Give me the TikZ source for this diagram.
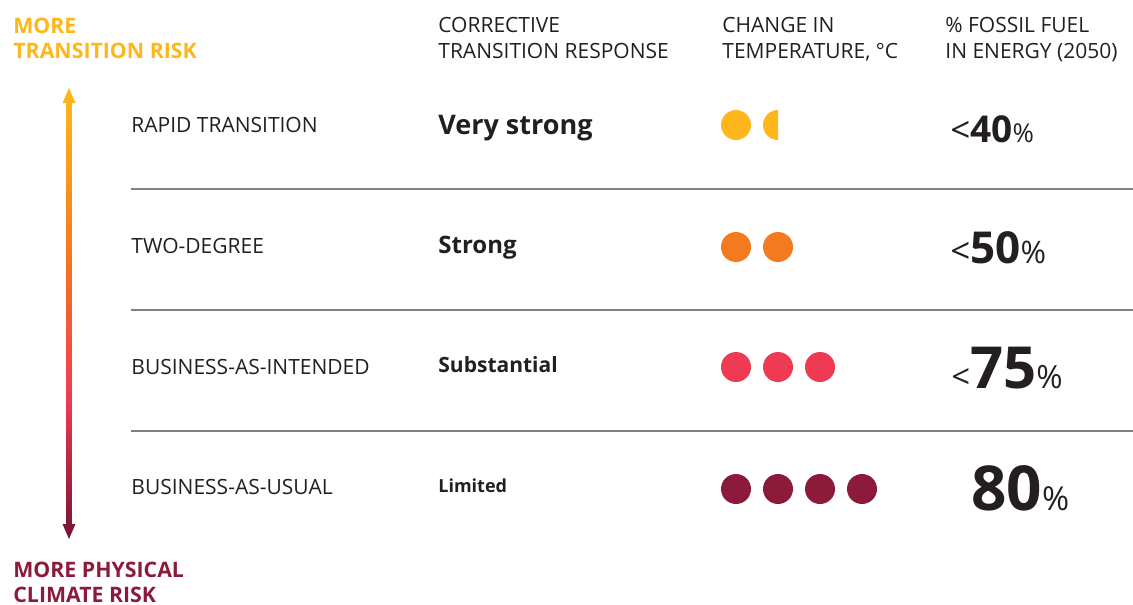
\documentclass[tikz,border=0pt]{standalone}
\usepackage{fontspec}
\setmainfont{Open Sans}
\usepackage{tikz}
\usetikzlibrary{positioning}

\definecolor{riskyellow}{HTML}{FDB71A}
\definecolor{riskorange}{HTML}{F47A20}
\definecolor{riskred}{HTML}{EF3A53}
\definecolor{riskmaroon}{HTML}{8C1A3B}
\definecolor{ink}{HTML}{231F20}
\definecolor{rulegray}{HTML}{7F7F7F}

\newcommand{\pctsize}[4]{{\fontsize{#1}{#1}\selectfont <}{\fontsize{#2}{#2}\selectfont\bfseries #3}{\fontsize{#4}{#4}\selectfont\%}}

\begin{document}
\begin{tikzpicture}[x=1pt, y=-1pt, thick,
    txt/.style = {anchor=base west, inner sep=0pt, text=ink, font=\fontsize{21}{26}\selectfont},
    head/.style = {txt, align=left},
    side/.style = {anchor=base west, inner sep=0pt, align=left, font=\fontsize{21.3}{25}\selectfont\bfseries},
    resp/.style = {anchor=base west, inner sep=0pt, text=ink},
    dot/.style = {circle, inner sep=0pt, minimum size=30pt},
    sep/.style = {draw=rulegray, line width=1.3pt}]
        \useasboundingbox (0,0) rectangle (1133,605);
        % Labels (base = last line)
        \node[side, text=riskyellow] (trans) at (13,58) {MORE\\TRANSITION RISK};
        \node[side, text=riskmaroon] (phys) at (13,602) {MORE PHYSICAL\\CLIMATE RISK};
        \node[head] (hresp) at (438,58) {CORRECTIVE\\TRANSITION RESPONSE};
        \node[head] (htemp) at (722,58) {CHANGE IN\\TEMPERATURE, °C};
        \node[head] (hfuel) at (945,58) {\% FOSSIL FUEL\\IN ENERGY (2050)};
        % Scenarios
        \node[txt] (rapid) at (131,132) {RAPID TRANSITION};
        \node[txt] (two) at (131,253) {TWO-DEGREE};
        \node[txt] (bai) at (131,374) {BUSINESS-AS-INTENDED};
        \node[txt] (bau) at (131,494) {BUSINESS-AS-USUAL};
        % Responses
        \node[resp, font=\fontsize{27}{30}\selectfont\bfseries] (vstrong) at (438,134) {Very strong};
        \node[resp, font=\fontsize{24}{26}\selectfont\bfseries] (strong) at (438,253) {Strong};
        \node[resp, font=\fontsize{21}{24}\selectfont\bfseries] (subst) at (438,372) {Substantial};
        \node[resp, font=\fontsize{18}{22}\selectfont\bfseries] (limited) at (438,492) {Limited};
        % Temperature
        \node[dot, fill=riskyellow] (t1a) at (736,125) {};
        \fill[riskyellow] (778,140) arc[start angle=90, end angle=270, radius=15] -- cycle;
        \foreach \i in {1,2} \node[dot, fill=riskorange] (t2\i) at (694+42*\i,247) {};
        \foreach \i in {1,2,3} \node[dot, fill=riskred] (t3\i) at (694+42*\i,367) {};
        \foreach \i in {1,...,4} \node[dot, fill=riskmaroon] (t4\i) at (694+42*\i,489) {};
        % Fossil fuel
        \node[resp] (f40) at (950,142) {\pctsize{35}{37}{40}{26}};
        \node[resp] (f50) at (950,263) {\pctsize{35}{44}{50}{31}};
        \node[resp] (f75) at (951,388) {\pctsize{33}{58}{75}{32}};
        \node[resp] (f80) at (971,510) {{\fontsize{62}{62}\selectfont\bfseries 80}{\fontsize{33}{33}\selectfont\%}};
        % Rules
        \coordinate (r1a) at (131,189); \coordinate (r1b) at (1133,189);
        \coordinate (r2a) at (131,310); \coordinate (r2b) at (1133,310);
        \coordinate (r3a) at (131,431); \coordinate (r3b) at (1133,431);
        \draw[sep] (r1a) -- (r1b);
        \draw[sep] (r2a) -- (r2b);
        \draw[sep] (r3a) -- (r3b);
        % Arrow
        \coordinate (up) at (69,88);
        \coordinate (down) at (69,539);
        \shade[top color=riskyellow, bottom color=riskorange] (66.5,100) rectangle (71.5,250);
        \shade[top color=riskorange, bottom color=riskred] (66.5,249.5) rectangle (71.5,400);
        \shade[top color=riskred, bottom color=riskmaroon!90!black] (66.5,399.5) rectangle (71.5,527);
        \fill[riskyellow] (up) -- ++(6.5,15) -- ++(-13,0) -- cycle;
        \fill[riskmaroon!90!black] (down) -- ++(6.5,-15) -- ++(-13,0) -- cycle;
\end{tikzpicture}
\end{document}
